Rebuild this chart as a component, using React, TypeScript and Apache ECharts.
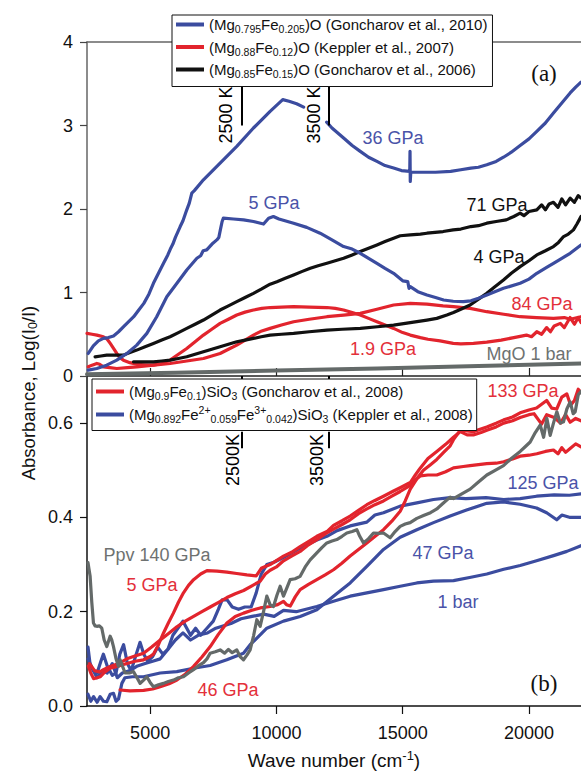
import React, { useEffect, useRef } from "react";
import * as echarts from "echarts";

// ---------- axes ----------
const X_MIN = 2500;
const X_MAX = 22060;
const X_TICKS = [5000, 10000, 15000, 20000];
const TOP_Y_MIN = 0;
const TOP_Y_MAX = 4;
const BOTTOM_Y_MIN = 0;
const BOTTOM_Y_MAX = 0.7;
const BOTTOM_Y_TICKS = [0, 0.2, 0.4, 0.6];
// Wien peak positions (cm^-1) for 2500 K and 3500 K
const WIEN_PEAKS = [8626, 12077];
const WIEN_LABELS = ["2500 K", "3500 K"];
const WIEN_LABELS_B = ["2500K", "3500K"];

// ---------- legend names ----------
const LEG_G2010 = "(Mg0.795Fe0.205)O (Goncharov et al., 2010)";
const LEG_K2007 = "(Mg0.88Fe0.12)O (Keppler et al., 2007)";
const LEG_G2006 = "(Mg0.85Fe0.15)O (Goncharov et al., 2006)";
const LEG_G2008 = "(Mg0.9Fe0.1)SiO3 (Goncharov et al., 2008)";
const LEG_K2008 = "(Mg0.892Fe2+0.059Fe3+0.042)SiO3 (Keppler et al., 2008)";

// ---------- panel (a) data ----------
const blue36GPa = [
  [2550, 0.27], [2750, 0.36], [2950, 0.42], [3150, 0.45], [3350, 0.46], [3550, 0.48], [3750, 0.53],
  [3950, 0.59], [4150, 0.65], [4350, 0.71], [4550, 0.79], [4750, 0.87], [4950, 0.98], [5130, 1.11],
  [5330, 1.23], [5530, 1.35], [5700, 1.45], [5800, 1.52], [5900, 1.58], [6000, 1.66], [6190, 1.79],
  [6300, 1.86], [6450, 1.99], [6550, 2.07], [6650, 2.19], [6750, 2.22], [7110, 2.35], [7770, 2.55],
  [8430, 2.75], [9090, 2.97], [9750, 3.17], [10250, 3.31], [10500, 3.29], [10800, 3.26], [11080, 3.22],
  [11500, "-"],
  [11990, 3.04], [12200, 2.97], [12660, 2.85], [13000, 2.76], [13320, 2.69], [13650, 2.62], [13980, 2.57],
  [14300, 2.52], [14640, 2.49], [14950, 2.46], [15280, 2.45], [15290, 2.69], [15300, 2.33], [15320, 2.44],
  [15700, 2.44], [16300, 2.44], [16900, 2.45], [17300, 2.47], [17700, 2.49], [18000, 2.5], [18330, 2.53],
  [18700, 2.57], [18990, 2.62], [19300, 2.68], [19650, 2.76], [20000, 2.84], [20310, 2.93], [20650, 3.03],
  [20970, 3.15], [21300, 3.27], [21630, 3.39], [21850, 3.46], [22060, 3.52],
];
const blue5GPa = [
  [2550, 0.07], [2890, 0.09], [3280, 0.13], [3680, 0.19], [4080, 0.27], [4470, 0.37], [4870, 0.51],
  [5260, 0.71], [5660, 0.95], [6060, 1.11], [6450, 1.27], [6850, 1.41], [7000, 1.44], [7100, 1.5],
  [7240, 1.51], [7450, 1.58], [7640, 1.63], [7720, 1.66], [7780, 1.75], [7850, 1.85], [7900, 1.89],
  [8300, 1.88], [8700, 1.87], [9090, 1.85], [9490, 1.82], [9690, 1.89], [9880, 1.91], [10100, 1.88],
  [10680, 1.83], [11200, 1.78], [11730, 1.71], [12200, 1.63], [12660, 1.55], [13000, 1.52], [13320, 1.47],
  [13650, 1.41], [13980, 1.35], [14300, 1.29], [14640, 1.23], [15000, 1.14], [15200, 1.13], [15250, 1.05],
  [15300, 1.07], [15600, 1.01], [15960, 0.97], [16300, 0.94], [16620, 0.91], [17000, 0.895], [17400, 0.89],
  [17700, 0.9], [18000, 0.93], [18330, 0.97], [18990, 1.05], [19650, 1.11], [20000, 1.16], [20310, 1.23],
  [20700, 1.3], [20970, 1.35], [21300, 1.41], [21630, 1.47], [22060, 1.57],
];
const black71GPa = [
  [2820, 0.23], [3050, 0.24], [3280, 0.25], [3600, 0.25], [3940, 0.25], [4200, 0.28], [4470, 0.31],
  [4800, 0.35], [5130, 0.39], [5460, 0.43], [5790, 0.47], [6120, 0.52], [6450, 0.57], [6780, 0.62],
  [7110, 0.67], [7440, 0.73], [7770, 0.79], [8100, 0.84], [8430, 0.89], [8760, 0.94], [9090, 0.99],
  [9400, 1.04], [9750, 1.1], [10020, 1.13], [10350, 1.17], [10680, 1.21], [11000, 1.25], [11340, 1.29],
  [11650, 1.32], [12000, 1.35], [12330, 1.38], [12660, 1.41], [13000, 1.45], [13320, 1.49], [13650, 1.53],
  [13980, 1.57], [14300, 1.61], [14640, 1.65], [14900, 1.68], [15300, 1.69], [15700, 1.7], [15960, 1.71],
  [16600, 1.73], [17000, 1.75], [17300, 1.76], [17700, 1.79], [18000, 1.8], [18330, 1.83], [18700, 1.85],
  [19100, 1.87], [19400, 1.91], [19650, 1.95], [19800, 1.92], [20000, 1.97], [20310, 1.99], [20500, 2.05],
  [20650, 1.99], [20800, 2.06], [20970, 2.08], [21150, 2.02], [21300, 2.12], [21450, 2.05], [21630, 2.13],
  [21800, 2.08], [21950, 2.16], [22060, 2.13],
];
const black4GPa = [
  [4340, 0.17], [4700, 0.17], [5130, 0.17], [5460, 0.18], [5790, 0.19], [6120, 0.21], [6450, 0.23],
  [6780, 0.26], [7110, 0.29], [7440, 0.32], [7770, 0.35], [8100, 0.38], [8430, 0.41], [8760, 0.43],
  [9090, 0.45], [9400, 0.47], [9750, 0.49], [10200, 0.5], [10680, 0.51], [11300, 0.53], [12000, 0.55],
  [12600, 0.56], [13320, 0.57], [14000, 0.59], [14640, 0.61], [15300, 0.64], [15960, 0.67], [16350, 0.69],
  [16750, 0.73], [17010, 0.76], [17300, 0.8], [17670, 0.85], [18000, 0.92], [18330, 0.99], [18650, 1.07],
  [18990, 1.15], [19300, 1.23], [19650, 1.31], [20000, 1.38], [20310, 1.45], [20650, 1.5], [20970, 1.55],
  [21170, 1.6], [21370, 1.67], [21560, 1.7], [21760, 1.75], [21900, 1.82], [22060, 1.91],
];
const red19GPa = [
  [2500, 0.51], [2700, 0.5], [2890, 0.49], [3150, 0.47], [3300, 0.44], [3420, 0.39], [3550, 0.33],
  [3680, 0.27], [3800, 0.22], [3940, 0.19], [4200, 0.16], [4470, 0.14], [4800, 0.135], [5130, 0.13],
  [5460, 0.15], [5790, 0.19], [6120, 0.26], [6450, 0.33], [6780, 0.41], [7110, 0.49], [7440, 0.56],
  [7770, 0.63], [8100, 0.68], [8430, 0.73], [8760, 0.765], [9090, 0.79], [9420, 0.81], [9750, 0.82],
  [10200, 0.825], [10680, 0.83], [11300, 0.825], [12000, 0.82], [12330, 0.81], [12660, 0.79], [13000, 0.76],
  [13320, 0.73], [13650, 0.69], [13980, 0.65], [14300, 0.61], [14640, 0.57], [15000, 0.52], [15300, 0.49],
  [15700, 0.46], [16000, 0.44], [16480, 0.42], [17000, 0.39], [17300, 0.385], [17800, 0.39], [18330, 0.405],
  [18900, 0.43], [19400, 0.46], [19900, 0.49], [20100, 0.47], [20310, 0.53], [20500, 0.5], [20700, 0.58],
  [20850, 0.53], [21000, 0.6], [21240, 0.63], [21400, 0.58], [21630, 0.7], [21800, 0.62], [21950, 0.7],
  [22060, 0.64],
];
const red84GPa = [
  [2550, 0.11], [2700, 0.13], [2890, 0.15], [3000, 0.14], [3150, 0.11], [3400, 0.1], [3680, 0.09],
  [4100, 0.1], [4470, 0.11], [5130, 0.13], [5790, 0.15], [6450, 0.18], [7110, 0.21], [7440, 0.24],
  [7770, 0.27], [8100, 0.32], [8430, 0.37], [8760, 0.43], [9090, 0.49], [9420, 0.54], [9750, 0.57],
  [10200, 0.61], [10680, 0.65], [11300, 0.68], [12000, 0.71], [12660, 0.73], [13320, 0.75], [13980, 0.8],
  [14640, 0.85], [15300, 0.87], [15960, 0.86], [16600, 0.84], [17010, 0.83], [17670, 0.81], [18330, 0.77],
  [19000, 0.74], [19650, 0.71], [20300, 0.7], [20970, 0.69], [21400, 0.7], [21630, 0.68], [22060, 0.71],
];
const mgo1bar = [
  [2500, 0.02], [6000, 0.04], [10000, 0.065], [14000, 0.09], [18000, 0.12], [22060, 0.15],
];

// ---------- panel (b) data ----------
const red5GPa = [
  [2550, 0.085], [2650, 0.07], [2760, 0.058], [2900, 0.06], [3020, 0.062], [3200, 0.072], [3420, 0.08],
  [3750, 0.085], [4080, 0.09], [4400, 0.095], [4740, 0.098], [5000, 0.105], [5130, 0.11], [5330, 0.13],
  [5530, 0.155], [5720, 0.176], [5920, 0.197], [6120, 0.22], [6320, 0.24], [6520, 0.256], [6720, 0.268],
  [7000, 0.28], [7250, 0.287], [7650, 0.286], [8040, 0.284], [8430, 0.281], [8830, 0.278], [9200, 0.276],
  [9400, 0.292], [9750, 0.3], [10280, 0.318], [10600, 0.326], [10940, 0.338], [11300, 0.35], [11600, 0.36],
  [12000, 0.37], [12260, 0.383], [12600, 0.393], [12920, 0.403], [13250, 0.415], [13580, 0.427],
  [13900, 0.436], [14240, 0.445], [14600, 0.455], [14900, 0.463], [15300, 0.474], [15500, 0.49],
  [15700, 0.505], [16000, 0.525], [16350, 0.54], [16700, 0.555], [17010, 0.57], [17280, 0.582],
  [17550, 0.575], [17800, 0.575], [18100, 0.58], [18330, 0.585], [18700, 0.592], [19000, 0.6],
  [19350, 0.605], [19650, 0.612], [20000, 0.618], [20200, 0.62], [20500, 0.598], [20700, 0.618],
  [21000, 0.612], [21250, 0.6], [21450, 0.618], [21630, 0.602], [21850, 0.61], [22060, 0.605],
];
const red46GPa = [
  [3810, 0.034], [4200, 0.032], [4740, 0.033], [5100, 0.036], [5400, 0.041], [5750, 0.047], [6060, 0.055],
  [6400, 0.068], [6720, 0.084], [7050, 0.104], [7380, 0.126], [7700, 0.152], [8040, 0.176], [8370, 0.19],
  [8700, 0.197], [9030, 0.203], [9360, 0.208], [9750, 0.211], [10050, 0.215], [10280, 0.222],
  [10400, 0.215], [10550, 0.212], [10750, 0.232], [10940, 0.247], [11270, 0.258], [11600, 0.268],
  [11930, 0.278], [12260, 0.289], [12590, 0.303], [12920, 0.318], [13250, 0.332], [13580, 0.346],
  [13910, 0.36], [14240, 0.374], [14570, 0.392], [14900, 0.413], [15100, 0.435], [15300, 0.46],
  [15560, 0.482], [15820, 0.5], [16100, 0.512], [16350, 0.523], [16620, 0.538], [16880, 0.552],
  [17010, 0.565], [17280, 0.585], [17800, 0.582], [18330, 0.592], [18700, 0.6], [19000, 0.607],
  [19350, 0.613], [19650, 0.622], [20000, 0.628], [20300, 0.632], [20500, 0.64], [20700, 0.648],
  [20900, 0.632], [21100, 0.63], [21300, 0.655], [21500, 0.662], [21650, 0.638], [21800, 0.648],
  [21950, 0.672], [22060, 0.665],
];
const red133GPa = [
  [2600, 0.09], [2800, 0.075], [3000, 0.072], [3150, 0.077], [3420, 0.084], [3750, 0.09], [4080, 0.1],
  [4400, 0.106], [4740, 0.112], [5060, 0.125], [5400, 0.14], [5730, 0.154], [6060, 0.168], [6390, 0.18],
  [6720, 0.19], [7050, 0.2], [7380, 0.21], [7710, 0.22], [8040, 0.23], [8370, 0.238], [8700, 0.245],
  [9030, 0.255], [9360, 0.265], [9560, 0.28], [9750, 0.288], [10000, 0.295], [10280, 0.308],
  [10600, 0.318], [10940, 0.328], [11270, 0.342], [11600, 0.353], [11930, 0.365], [12260, 0.375],
  [12600, 0.385], [12920, 0.395], [13250, 0.408], [13580, 0.418], [13900, 0.427], [14240, 0.435],
  [14570, 0.445], [14900, 0.455], [15300, 0.468], [15500, 0.48], [15700, 0.488], [16000, 0.49],
  [16350, 0.49], [16700, 0.497], [17010, 0.505], [17400, 0.508], [17670, 0.51], [18000, 0.512],
  [18330, 0.514], [18700, 0.515], [19000, 0.518], [19350, 0.524], [19650, 0.53], [20000, 0.532],
  [20310, 0.535], [20650, 0.54], [20970, 0.543], [21150, 0.535], [21300, 0.548], [21450, 0.538],
  [21630, 0.546], [21850, 0.556], [22060, 0.55],
];
const blue125GPa = [
  [2540, 0.125], [2620, 0.09], [2750, 0.075], [2900, 0.07], [3050, 0.095], [3150, 0.11], [3300, 0.085],
  [3500, 0.065], [3650, 0.07], [3800, 0.11], [3950, 0.13], [4100, 0.09], [4250, 0.075], [4450, 0.11],
  [4600, 0.135], [4750, 0.11], [4900, 0.095], [5100, 0.105], [5300, 0.125], [5500, 0.11], [5700, 0.12],
  [5900, 0.15], [6100, 0.165], [6300, 0.18], [6450, 0.165], [6600, 0.15], [6800, 0.165], [7000, 0.15],
  [7250, 0.165], [7500, 0.18], [7700, 0.205], [7850, 0.225], [8050, 0.225], [8250, 0.21], [8500, 0.205],
  [8750, 0.21], [9000, 0.21], [9200, 0.24], [9400, 0.28], [9620, 0.3], [9900, 0.305], [10280, 0.315],
  [10940, 0.335], [11600, 0.352], [12000, 0.36], [12400, 0.372], [12920, 0.382], [13580, 0.39],
  [13900, 0.405], [14240, 0.41], [14900, 0.424], [15560, 0.431], [16220, 0.438], [16880, 0.442],
  [17500, 0.44], [18300, 0.442], [19000, 0.438], [19650, 0.44], [20300, 0.445], [21000, 0.448],
  [21600, 0.447], [22060, 0.45],
];
const blue47GPa = [
  [2540, 0.025], [2650, 0.01], [2760, 0.02], [2900, 0.008], [3020, 0.02], [3150, 0.01], [3284, 0.009],
  [3420, 0.025], [3548, 0.027], [3650, 0.01], [3750, 0.015], [3880, 0.048], [4000, 0.06], [4300, 0.062],
  [4736, 0.062], [5396, 0.07], [6056, 0.073], [6716, 0.08], [7376, 0.086], [8036, 0.098], [8696, 0.112],
  [8960, 0.13], [9356, 0.151], [9620, 0.165], [10280, 0.18], [10940, 0.19], [11600, 0.204], [12260, 0.233],
  [12920, 0.261], [13580, 0.296], [14240, 0.332], [14900, 0.358], [15560, 0.374], [16220, 0.389],
  [16880, 0.403], [17500, 0.415], [18330, 0.43], [18990, 0.433], [19650, 0.428], [20300, 0.42],
  [20700, 0.41], [21100, 0.395], [21300, 0.405], [21632, 0.4], [22060, 0.4],
];
const blue1bar = [
  [2540, 0.1], [2700, 0.08], [2900, 0.06], [3100, 0.075], [3300, 0.07], [3500, 0.09], [3700, 0.06],
  [3900, 0.07], [4200, 0.075], [4500, 0.085], [4800, 0.09], [5100, 0.095], [5400, 0.1], [5700, 0.12],
  [6000, 0.14], [6300, 0.155], [6600, 0.14], [6900, 0.15], [7273, 0.155], [7600, 0.165], [7851, 0.169],
  [8200, 0.175], [8600, 0.185], [9035, 0.19], [9500, 0.195], [9910, 0.19], [10280, 0.203], [10782, 0.2],
  [11600, 0.211], [12260, 0.222], [12920, 0.233], [13580, 0.24], [14240, 0.247], [14900, 0.254],
  [15560, 0.261], [16220, 0.265], [17012, 0.266], [17700, 0.273], [18332, 0.28], [19000, 0.29],
  [19652, 0.298], [20300, 0.308], [20972, 0.319], [21500, 0.328], [22060, 0.34],
];
const ppv140GPa = [
  [2540, 0.304], [2580, 0.29], [2624, 0.275], [2690, 0.22], [2756, 0.176], [2820, 0.17], [2888, 0.169],
  [2990, 0.17], [3086, 0.165], [3180, 0.14], [3284, 0.126], [3416, 0.148], [3480, 0.14], [3548, 0.126],
  [3650, 0.1], [3746, 0.084], [3812, 0.098], [3900, 0.085], [4010, 0.07], [4180, 0.07], [4340, 0.073],
  [4480, 0.06], [4604, 0.048], [4740, 0.055], [4868, 0.062], [5000, 0.05], [5132, 0.041], [5330, 0.045],
  [5528, 0.048], [5720, 0.052], [5924, 0.055], [6120, 0.06], [6320, 0.062], [6520, 0.07], [6716, 0.077],
  [6900, 0.085], [7112, 0.092], [7250, 0.1], [7376, 0.112], [7580, 0.115], [7772, 0.119], [7950, 0.112],
  [8100, 0.12], [8250, 0.113], [8432, 0.119], [8560, 0.105], [8696, 0.098], [8830, 0.108], [8960, 0.119],
  [9100, 0.15], [9224, 0.183], [9356, 0.169], [9490, 0.2], [9620, 0.233], [9750, 0.215], [9884, 0.211],
  [10020, 0.235], [10148, 0.254], [10280, 0.233], [10410, 0.25], [10544, 0.268], [10740, 0.27],
  [10940, 0.275], [11140, 0.295], [11336, 0.31], [11600, 0.325], [11800, 0.336], [11996, 0.346],
  [12200, 0.35], [12392, 0.353], [12600, 0.36], [12788, 0.367], [13000, 0.37], [13184, 0.374],
  [13300, 0.36], [13448, 0.346], [13650, 0.355], [13844, 0.367], [14050, 0.366], [14240, 0.367],
  [14504, 0.357], [14700, 0.37], [14900, 0.381], [15100, 0.386], [15296, 0.389], [15560, 0.398],
  [15824, 0.404], [16100, 0.41], [16352, 0.418], [16600, 0.43], [16880, 0.443], [17012, 0.44],
  [17340, 0.45], [17672, 0.46], [18000, 0.475], [18332, 0.49], [18660, 0.5], [18992, 0.51],
  [19300, 0.525], [19652, 0.54], [19850, 0.55], [20048, 0.56], [20250, 0.58], [20444, 0.596],
  [20580, 0.57], [20708, 0.61], [20840, 0.574], [20970, 0.6], [21104, 0.624], [21240, 0.6],
  [21368, 0.603], [21500, 0.63], [21632, 0.645], [21750, 0.62], [21830, 0.624], [21950, 0.66],
  [22060, 0.667],
];

// ---------- styles ----------
const FONT = '"Liberation Sans", Arial, Helvetica, sans-serif';
const SERIF = '"Liberation Serif", "Times New Roman", serif';
const BLUE = "#3b4c9f";
const RED = "#e2242d";
const BLACK = "#111111";
const GREY = "#646a69";
const BLUE_T = "#4a53a8";
const RED_T = "#e3303a";
const GREY_T = "#6e7271";

const legendRichText: Record<string, string> = {
  [LEG_G2010]: "{n|(Mg}{s|0.795}{n|Fe}{s|0.205}{n|)O (Goncharov et al., 2010)}",
  [LEG_K2007]: "{n|(Mg}{s|0.88}{n|Fe}{s|0.12}{n|)O (Keppler et al., 2007)}",
  [LEG_G2006]: "{n|(Mg}{s|0.85}{n|Fe}{s|0.15}{n|)O (Goncharov et al., 2006)}",
  [LEG_G2008]: "{n|(Mg}{s|0.9}{n|Fe}{s|0.1}{n|)SiO}{s|3}{n| (Goncharov et al., 2008)}",
  [LEG_K2008]:
    "{n|(Mg}{s|0.892}{n|Fe}{p|2+}{s|0.059}{n|Fe}{p|3+}{s|0.042}{n|)SiO}{s|3}{n| (Keppler et al., 2008)}",
};

const legendRich = {
  n: { fontSize: 15, fontFamily: FONT, color: "#111", lineHeight: 20, verticalAlign: "middle" },
  s: { fontSize: 10.5, fontFamily: FONT, color: "#111", lineHeight: 10, verticalAlign: "bottom" },
  p: { fontSize: 10.5, fontFamily: FONT, color: "#111", lineHeight: 10, verticalAlign: "top" },
};

function lineSeries(name: string, data: any[], color: string, gi: number) {
  return {
    type: "line",
    name,
    data,
    xAxisIndex: gi === 0 ? 0 : 2,
    yAxisIndex: gi,
    showSymbol: false,
    symbol: "none",
    silent: true,
    clip: true,
    connectNulls: false,
    itemStyle: { color },
    lineStyle: { color, width: 3.2, join: "round", cap: "round" },
    emphasis: { disabled: true },
  };
}

function label(text: string, x: number, y: number, color: string, extra: any = {}) {
  return {
    type: "text",
    x,
    y,
    silent: true,
    z: 20,
    ...extra,
    style: {
      text,
      fill: color,
      font: `18px ${FONT}`,
      align: "center",
      verticalAlign: "middle",
      textAlign: "center",
      textVerticalAlign: "middle",
      ...(extra.style || {}),
    },
  };
}

function buildOption() {
  const axisCommon = {
    type: "value",
    min: X_MIN,
    max: X_MAX,
    splitLine: { show: false },
  };
  const markerTop = {
    silent: true,
    symbol: ["none", "none"],
    label: { show: false },
    lineStyle: { color: "#000", width: 2, type: "solid" },
    data: WIEN_PEAKS.map((x) => [{ coord: [x, 3.0] }, { coord: [x, 3.52] }]),
  };
  const markerBottom = {
    silent: true,
    symbol: ["none", "none"],
    label: { show: false },
    lineStyle: { color: "#000", width: 2, type: "solid" },
    data: [
      ...WIEN_PEAKS.map((x) => [{ coord: [x, 0.547] }, { coord: [x, 0.582] }]),
      ...WIEN_PEAKS.map((x) => [{ coord: [x, 0.688] }, { coord: [x, 0.7] }]),
    ],
  };

  const topSeries = [
    lineSeries("MgO 1 bar", mgo1bar, GREY, 0),
    lineSeries(LEG_K2007, red84GPa, RED, 0),
    lineSeries(LEG_K2007, red19GPa, RED, 0),
    lineSeries(LEG_G2006, black4GPa, BLACK, 0),
    lineSeries(LEG_G2006, black71GPa, BLACK, 0),
    lineSeries(LEG_G2010, blue5GPa, BLUE, 0),
    lineSeries(LEG_G2010, blue36GPa, BLUE, 0),
  ];
  (topSeries[0] as any).markLine = markerTop;
  (topSeries[0] as any).lineStyle.width = 4;

  const bottomSeries = [
    lineSeries(LEG_K2008, blue1bar, BLUE, 1),
    lineSeries(LEG_K2008, blue47GPa, BLUE, 1),
    lineSeries(LEG_K2008, blue125GPa, BLUE, 1),
    lineSeries(LEG_G2008, red133GPa, RED, 1),
    lineSeries(LEG_G2008, red46GPa, RED, 1),
    lineSeries(LEG_G2008, red5GPa, RED, 1),
    lineSeries("Ppv 140 GPa", ppv140GPa, GREY, 1),
  ];
  (bottomSeries[0] as any).markLine = markerBottom;

  const legendCommon = {
    orient: "vertical",
    icon: "rect",
    itemWidth: 28,
    itemHeight: 4,
    backgroundColor: "#fff",
    borderColor: "#111",
    borderWidth: 1,
    borderRadius: 0,
    selectedMode: false,
    z: 10,
    formatter: (name: string) => legendRichText[name] || name,
    textStyle: { fontFamily: FONT, fontSize: 15, color: "#111", rich: legendRich },
  };

  const graphics: any[] = [
    // y axis title
    {
      type: "text",
      x: 28,
      y: 393,
      rotation: Math.PI / 2,
      silent: true,
      style: {
        text: "{n|Absorbance, Log(I}{s|0}{n|/I)}",
        align: "center",
        verticalAlign: "middle",
        rich: {
          n: { fontSize: 18.5, fontFamily: FONT, fill: "#111", color: "#111", lineHeight: 22 },
          s: { fontSize: 12.5, fontFamily: FONT, fill: "#111", color: "#111", lineHeight: 12, verticalAlign: "bottom" },
        },
      },
    },
    // Wien markers
    label(WIEN_LABELS[0], 226, 115, "#000", { rotation: Math.PI / 2 }),
    label(WIEN_LABELS[1], 314, 115, "#000", { rotation: Math.PI / 2 }),
    label(WIEN_LABELS_B[0], 233, 460, "#000", { rotation: Math.PI / 2 }),
    label(WIEN_LABELS_B[1], 317, 460, "#000", { rotation: Math.PI / 2 }),
    // panel (a) labels
    label("36 GPa", 393, 138, BLUE_T),
    label("5 GPa", 274, 203, BLUE_T),
    label("71 GPa", 497, 205, BLACK),
    label("4 GPa", 499, 257, BLACK),
    label("84 GPa", 542, 304, RED_T),
    label("1.9 GPa", 383, 349, RED_T),
    label("MgO 1 bar", 529, 354, GREY_T),
    label("(a)", 544, 73, "#111", { style: { font: `23px ${SERIF}` } }),
    // panel (b) labels
    label("133 GPa", 523, 391, RED_T),
    label("125 GPa", 543, 483, BLUE_T),
    label("47 GPa", 443, 553, BLUE_T),
    label("1 bar", 458, 602, BLUE_T),
    label("Ppv 140 GPa", 157, 555, GREY_T),
    label("5 GPa", 152, 585, RED_T),
    label("46 GPa", 228, 690, RED_T),
    label("(b)", 544, 683, "#111", { style: { font: `23px ${SERIF}` } }),
  ];

  return {
    animation: false,
    backgroundColor: "#fff",
    textStyle: { fontFamily: FONT },
    grid: [
      { left: 87, top: 42, right: 0, height: 334, containLabel: false },
      { left: 87, top: 376, right: 0, height: 330, containLabel: false },
    ],
    xAxis: [
      {
        ...axisCommon,
        gridIndex: 0,
        position: "bottom",
        axisLine: { show: true, onZero: false, lineStyle: { color: "#222", width: 1.5 } },
        axisTick: { show: true, inside: true, length: 8, customValues: X_TICKS, lineStyle: { color: "#222", width: 1.2 } },
        axisLabel: { show: false },
      },
      {
        ...axisCommon,
        gridIndex: 0,
        position: "top",
        axisLine: { show: true, onZero: false, lineStyle: { color: "#666", width: 1.5 } },
        axisTick: { show: false },
        axisLabel: { show: false },
      },
      {
        ...axisCommon,
        gridIndex: 1,
        position: "bottom",
        axisLine: { show: true, onZero: false, lineStyle: { color: "#111", width: 1.5 } },
        axisTick: { show: true, inside: false, length: 8, customValues: X_TICKS, lineStyle: { color: "#111", width: 1.2 } },
        axisLabel: {
          show: true,
          customValues: X_TICKS,
          fontSize: 18,
          fontFamily: FONT,
          color: "#111",
          margin: 18,
          formatter: (v: number) => String(v),
        },
        name: "{n|Wave number (cm}{p|-1}{n|)}",
        nameLocation: "middle",
        nameGap: 43,
        nameTextStyle: {
          rich: {
            n: { fontSize: 19, fontFamily: FONT, color: "#111", lineHeight: 22 },
            p: { fontSize: 13, fontFamily: FONT, color: "#111", lineHeight: 12, verticalAlign: "top" },
          },
        },
      },
    ],
    yAxis: [
      {
        type: "value",
        gridIndex: 0,
        min: TOP_Y_MIN,
        max: TOP_Y_MAX,
        interval: 1,
        splitLine: { show: false },
        axisLine: { show: true, onZero: false, lineStyle: { color: "#666", width: 1.5 } },
        axisTick: { show: true, inside: false, length: 7, lineStyle: { color: "#444", width: 1.2 } },
        axisLabel: { fontSize: 18, fontFamily: FONT, color: "#111", margin: 14 },
      },
      {
        type: "value",
        gridIndex: 1,
        min: BOTTOM_Y_MIN,
        max: BOTTOM_Y_MAX,
        splitLine: { show: false },
        axisLine: { show: true, onZero: false, lineStyle: { color: "#111", width: 1.5 } },
        axisTick: { show: true, inside: false, length: 7, customValues: BOTTOM_Y_TICKS, lineStyle: { color: "#111", width: 1.2 } },
        axisLabel: {
          customValues: BOTTOM_Y_TICKS,
          fontSize: 18,
          fontFamily: FONT,
          color: "#111",
          margin: 14,
          formatter: (v: number) => v.toFixed(1),
        },
      },
    ],
    legend: [
      {
        ...legendCommon,
        data: [LEG_G2010, LEG_K2007, LEG_G2006],
        left: 172,
        top: 15,
        itemGap: 5,
        padding: [2, 5, 7, 4],
      },
      {
        ...legendCommon,
        data: [LEG_G2008, LEG_K2008],
        left: 92,
        top: 379,
        itemGap: 3,
        padding: [5, 4, 6, 4],
      },
    ],
    graphic: graphics,
    series: [...topSeries, ...bottomSeries],
  };
}

export default function App() {
  const ref = useRef<HTMLDivElement | null>(null);
  useEffect(() => {
    if (!ref.current) return;
    const chart = echarts.init(ref.current, undefined, { renderer: "svg" });
    chart.setOption(buildOption() as any);
    return () => chart.dispose();
  }, []);
  return (
    <div
      ref={ref}
      style={{ position: "absolute", left: 0, top: 0, width: 581, height: 776, background: "#fff" }}
    />
  );
}
